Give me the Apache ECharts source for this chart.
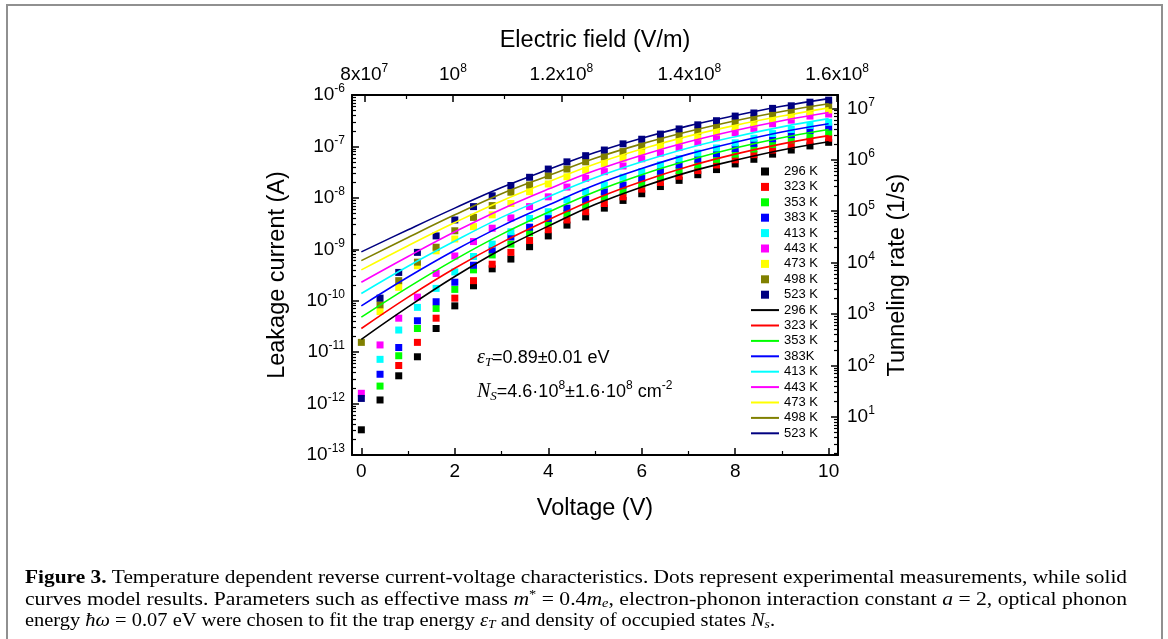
<!DOCTYPE html>
<html>
<head>
<meta charset="utf-8">
<script src="https://cdn.jsdelivr.net/npm/echarts@6/dist/echarts.min.js"></script>
<style>
html,body{margin:0;padding:0;background:#fff;}
#chart{width:1168px;height:639px;}
</style>
</head>
<body>
<div id="chart"></div>
<script>
// ---------------- data (current values given as log10 of current in A) ----------------
const voltage = [0,0.4,0.8,1.2,1.6,2.0,2.4,2.8,3.2,3.6,4.0,4.4,4.8,5.2,5.6,6.0,6.4,6.8,7.2,7.6,8.0,8.4,8.8,9.2,9.6,10];
const temperatures = ['296 K','323 K','353 K','383 K','413 K','443 K','473 K','498 K','523 K'];
const fitLabels = ['296 K','323 K','353 K','383K','413 K','443 K','473 K','498 K','523 K'];
const colors = ['#000000','#ff0000','#00ff00','#0000ff','#00ffff','#ff00ff','#ffff00','#808000','#000080'];

const log10I_296K = [-12.51,-11.93,-11.46,-11.09,-10.54,-10.10,-9.71,-9.38,-9.19,-8.95,-8.74,-8.53,-8.37,-8.20,-8.05,-7.92,-7.78,-7.66,-7.55,-7.45,-7.34,-7.25,-7.15,-7.07,-6.99,-6.92];
const log10I_323K = [null,null,-11.26,-10.81,-10.34,-9.95,-9.61,-9.29,-9.06,-8.83,-8.62,-8.43,-8.27,-8.11,-7.98,-7.83,-7.70,-7.58,-7.47,-7.36,-7.26,-7.16,-7.07,-6.98,-6.90,-6.84];
const log10I_353K = [null,-11.66,-11.07,-10.54,-10.15,-9.78,-9.40,-9.11,-8.90,-8.68,-8.49,-8.30,-8.14,-7.98,-7.86,-7.73,-7.59,-7.47,-7.36,-7.25,-7.15,-7.05,-6.96,-6.87,-6.79,-6.72];
const log10I_383K = [null,-11.43,-10.91,-10.39,-10.02,-9.64,-9.31,-9.01,-8.76,-8.57,-8.40,-8.20,-8.03,-7.88,-7.75,-7.62,-7.48,-7.36,-7.25,-7.14,-7.04,-6.94,-6.85,-6.77,-6.69,-6.62];
const log10I_413K = [null,-11.14,-10.57,-10.13,-9.76,-9.44,-9.14,-8.90,-8.66,-8.40,-8.27,-8.04,-7.88,-7.75,-7.60,-7.49,-7.36,-7.24,-7.13,-7.03,-6.93,-6.84,-6.75,-6.67,-6.59,-6.53];
const log10I_443K = [-11.80,-10.86,-10.34,-9.93,-9.47,-9.13,-8.85,-8.59,-8.39,-8.17,-7.98,-7.79,-7.62,-7.49,-7.38,-7.24,-7.13,-7.02,-6.92,-6.83,-6.73,-6.65,-6.56,-6.49,-6.41,-6.37];
const log10I_473K = [null,-10.21,-9.74,-9.32,-9.03,-8.80,-8.56,-8.33,-8.11,-7.88,-7.73,-7.59,-7.46,-7.33,-7.23,-7.10,-7.00,-6.90,-6.81,-6.72,-6.63,-6.56,-6.47,-6.41,-6.34,-6.29];
const log10I_498K = [-10.81,-10.08,-9.61,-9.25,-8.96,-8.64,-8.38,-8.15,-7.89,-7.75,-7.57,-7.44,-7.30,-7.20,-7.10,-6.99,-6.88,-6.78,-6.70,-6.61,-6.52,-6.46,-6.37,-6.32,-6.25,-6.20];
const log10I_523K = [-11.90,-9.95,-9.45,-9.06,-8.74,-8.43,-8.17,-7.96,-7.76,-7.60,-7.44,-7.30,-7.18,-7.07,-6.95,-6.86,-6.76,-6.66,-6.58,-6.50,-6.41,-6.35,-6.26,-6.21,-6.14,-6.10];

const fitVoltage = [0,1,2,3,4,5,6,7,8,9,10];
const fit_296K = [-10.75,-10.12,-9.53,-9.00,-8.55,-8.13,-7.79,-7.50,-7.27,-7.07,-6.91];
const fit_323K = [-10.54,-9.93,-9.37,-8.87,-8.43,-8.02,-7.68,-7.39,-7.15,-6.95,-6.79];
const fit_353K = [-10.32,-9.74,-9.20,-8.71,-8.28,-7.88,-7.55,-7.27,-7.03,-6.83,-6.67];
const fit_383K = [-10.10,-9.54,-9.02,-8.55,-8.14,-7.75,-7.43,-7.15,-6.92,-6.72,-6.56];
const fit_413K = [-9.86,-9.33,-8.84,-8.38,-7.98,-7.61,-7.30,-7.03,-6.81,-6.62,-6.46];
const fit_443K = [-9.64,-9.14,-8.66,-8.22,-7.83,-7.47,-7.17,-6.91,-6.69,-6.50,-6.34];
const fit_473K = [-9.40,-8.93,-8.48,-8.06,-7.69,-7.34,-7.05,-6.80,-6.59,-6.41,-6.25];
const fit_498K = [-9.22,-8.77,-8.33,-7.92,-7.57,-7.23,-6.95,-6.71,-6.50,-6.32,-6.17];
const fit_523K = [-9.05,-8.62,-8.20,-7.80,-7.45,-7.12,-6.84,-6.60,-6.40,-6.22,-6.07];

const measured = [log10I_296K,log10I_323K,log10I_353K,log10I_383K,log10I_413K,log10I_443K,log10I_473K,log10I_498K,log10I_523K];
const fits = [fit_296K,fit_323K,fit_353K,fit_383K,fit_413K,fit_443K,fit_473K,fit_498K,fit_523K];

// tick labels
const voltageTicks = [0,2,4,6,8,10];
const voltageMinorTicks = [1,3,5,7,9];
const currentExponents = [-13,-12,-11,-10,-9,-8,-7,-6];
const rateExponents = [1,2,3,4,5,6,7];
const fieldTicks = [8e7,1e8,1.2e8,1.4e8,1.6e8];
const fieldTickLabels = ['8x10^7','10^8','1.2x10^8','1.4x10^8','1.6x10^8'];
const fieldMinorTicks = [9e7,1.1e8,1.3e8,1.5e8];

// ---------------- axis geometry helpers ----------------
// voltage position of an electric-field value on the top axis (read off the tick positions)
const fieldToVoltage = E => 5.27 * Math.pow(E / 1e8, 2) - 3.31;
const fieldTickV = fieldTicks.map(fieldToVoltage);
const fieldMinorV = fieldMinorTicks.map(fieldToVoltage);
const X_MIN = -0.2, X_MAX = 10.2;
const Y_MIN = -13, Y_MAX = -6;
const R_MIN = 0.26, R_MAX = 7.26;
const logMinor = (lo, hi) => {
  const out = [];
  for (let n = Math.floor(lo) - 1; n <= Math.ceil(hi); n++) {
    for (let k = 2; k <= 9; k++) {
      const v = n + Math.log10(k);
      if (v > lo && v < hi) out.push(v);
    }
  }
  return out;
};

const FONT = '"Liberation Sans", Arial, Helvetica, sans-serif';
const SERIF = '"Liberation Serif", "Times New Roman", serif';
const richTick = {
  b: {fontSize: 19, fontFamily: FONT, color: '#000'},
  s: {fontSize: 12, fontFamily: FONT, color: '#000', padding: [0, 0, 12, 0]}
};
const supText = s => {
  const p = s.split('^');
  return '{b|' + p[0] + '}' + (p.length > 1 ? '{s|' + p[1] + '}' : '');
};

const AXIS_LINE = {show: true, onZero: false, lineStyle: {color: '#000', width: 2}};
const NAME_STYLE = {fontSize: 23.5, fontFamily: FONT, color: '#000'};
const majorTick = vals => ({show: true, inside: true, length: 7, customValues: vals, lineStyle: {color: '#000', width: 1.5}});
const minorTick = vals => ({show: true, inside: true, length: 4, customValues: vals, lineStyle: {color: '#000', width: 1.2}});

const xAxes = [
  {type: 'value', position: 'bottom', min: X_MIN, max: X_MAX, axisLine: AXIS_LINE,
   axisTick: majorTick(voltageTicks),
   axisLabel: {customValues: voltageTicks, fontSize: 19, fontFamily: FONT, color: '#000', margin: 7},
   splitLine: {show: false},
   name: 'Voltage (V)', nameLocation: 'middle', nameGap: 42, nameTextStyle: NAME_STYLE},
  {type: 'value', position: 'bottom', min: X_MIN, max: X_MAX, axisLine: {show: false, onZero: false},
   axisTick: minorTick(voltageMinorTicks), axisLabel: {show: false}, splitLine: {show: false}},
  {type: 'value', position: 'top', min: X_MIN, max: X_MAX, axisLine: AXIS_LINE,
   axisTick: majorTick(fieldTickV),
   axisLabel: {customValues: fieldTickV, margin: 8, rich: richTick,
     formatter: v => {
       let best = 0;
       fieldTickV.forEach((t, i) => { if (Math.abs(t - v) < Math.abs(fieldTickV[best] - v)) best = i; });
       return supText(fieldTickLabels[best]);
     }},
   splitLine: {show: false},
   name: 'Electric field (V/m)', nameLocation: 'middle', nameGap: 42, nameTextStyle: NAME_STYLE},
  {type: 'value', position: 'top', min: X_MIN, max: X_MAX, axisLine: {show: false, onZero: false},
   axisTick: minorTick(fieldMinorV), axisLabel: {show: false}, splitLine: {show: false}}
];

const yAxes = [
  {type: 'value', position: 'left', min: Y_MIN, max: Y_MAX, axisLine: AXIS_LINE,
   axisTick: majorTick(currentExponents),
   axisLabel: {customValues: currentExponents, margin: 7, rich: richTick, formatter: v => supText('10^' + Math.round(v))},
   splitLine: {show: false},
   name: 'Leakage current (A)', nameLocation: 'middle', nameGap: 62, nameRotate: 90, nameTextStyle: NAME_STYLE},
  {type: 'value', position: 'left', min: Y_MIN, max: Y_MAX, axisLine: {show: false, onZero: false},
   axisTick: minorTick(logMinor(Y_MIN, Y_MAX)), axisLabel: {show: false}, splitLine: {show: false}},
  {type: 'value', position: 'right', min: R_MIN, max: R_MAX, axisLine: AXIS_LINE,
   axisTick: majorTick(rateExponents),
   axisLabel: {customValues: rateExponents, margin: 9, rich: richTick, formatter: v => supText('10^' + Math.round(v))},
   splitLine: {show: false},
   name: 'Tunneling rate (1/s)', nameLocation: 'middle', nameGap: 48, nameRotate: 90, nameTextStyle: NAME_STYLE},
  {type: 'value', position: 'right', min: R_MIN, max: R_MAX, axisLine: {show: false, onZero: false},
   axisTick: minorTick(logMinor(R_MIN, R_MAX)), axisLabel: {show: false}, splitLine: {show: false}}
];

// ---------------- series ----------------
const series = [];
temperatures.forEach((t, i) => {
  series.push({
    type: 'scatter', name: t, xAxisIndex: 0, yAxisIndex: 0,
    data: voltage.map((v, j) => [v, measured[i][j]]).filter(p => p[1] !== null),
    symbol: 'rect', symbolSize: 7, itemStyle: {color: colors[i], opacity: 1}, z: 2, silent: true
  });
});
temperatures.forEach((t, i) => {
  series.push({
    type: 'line', name: 'fit ' + t, xAxisIndex: 0, yAxisIndex: 0,
    data: fitVoltage.map((v, j) => [v, fits[i][j]]),
    smooth: 0.4, showSymbol: false, symbol: 'none',
    lineStyle: {color: colors[i], width: 1.6}, itemStyle: {color: colors[i]}, z: 3, silent: true
  });
});

const legendLabel = {};
temperatures.forEach((t, i) => { legendLabel[t] = t; legendLabel['fit ' + t] = fitLabels[i]; });
const legendData = temperatures.map((t, i) => ({name: t, icon: 'path://M0,0L8,0L8,8L0,8Z', itemStyle: {color: colors[i]}}))
  .concat(temperatures.map((t, i) => ({name: 'fit ' + t, icon: 'path://M0,0L28,0L28,2L0,2Z', itemStyle: {color: colors[i]}})));

// ---------------- caption / annotation text ----------------
const ctx = document.createElement('canvas').getContext('2d');
const CAP = 18;
const capRich = {
  r: {fontFamily: SERIF, fontSize: CAP, color: '#000'},
  b: {fontFamily: SERIF, fontSize: CAP, fontWeight: 'bold', color: '#000'},
  i: {fontFamily: SERIF, fontSize: CAP, fontStyle: 'italic', color: '#000'},
  sup: {fontFamily: SERIF, fontSize: 12, color: '#000', padding: [0, 0, 10, 0]},
  isub: {fontFamily: SERIF, fontSize: 12, fontStyle: 'italic', color: '#000', padding: [8, 0, 0, 0]}
};
const fontOf = st => (st.fontStyle || 'normal') + ' ' + (st.fontWeight || 'normal') + ' ' + st.fontSize + 'px ' + st.fontFamily;
function richLine(segs) {
  let text = '', width = 0;
  segs.forEach(([k, s]) => {
    text += '{' + k + '|' + s + '}';
    ctx.font = fontOf(capRich[k]);
    width += ctx.measureText(s).width;
  });
  return {text, width};
}
const captionLines = [
  {y: 578, target: 1102, segs: [['b', 'Figure 3.'], ['r', ' Temperature dependent reverse current-voltage characteristics. Dots represent experimental measurements, while solid']]},
  {y: 600, target: 1102, segs: [['r', 'curves model results. Parameters such as effective mass '], ['i', 'm'], ['sup', '*'], ['r', ' = 0.4'], ['i', 'm'], ['isub', 'e'], ['r', ', electron-phonon interaction constant '], ['i', 'a'], ['r', ' = 2, optical phonon']]},
  {y: 621, target: 750, segs: [['r', 'energy '], ['i', 'ħω'], ['r', ' = 0.07 eV were chosen to fit the trap energy '], ['i', 'ε'], ['isub', 'T'], ['r', ' and density of occupied states '], ['i', 'N'], ['isub', 's'], ['r', '.']]}
];
const graphics = [
  {type: 'rect', shape: {x: 7, y: 5, width: 1155, height: 700}, style: {fill: 'none', stroke: '#909090', lineWidth: 2}, silent: true}
];
captionLines.forEach(l => {
  const r = richLine(l.segs);
  graphics.push({type: 'text', x: 25, y: l.y, scaleX: l.target / r.width, silent: true,
    style: {text: r.text, rich: capRich, verticalAlign: 'middle', align: 'left'}});
});
const annRich = {
  e: {fontFamily: SERIF, fontSize: 20, fontStyle: 'italic', color: '#000'},
  es: {fontFamily: SERIF, fontSize: 13, fontStyle: 'italic', color: '#000', padding: [9, 0, 0, 0]},
  t: {fontFamily: FONT, fontSize: 18, color: '#000'},
  s: {fontFamily: FONT, fontSize: 12, color: '#000', padding: [0, 0, 12, 0]}
};
graphics.push({type: 'text', x: 477, y: 358, silent: true,
  style: {text: '{e|ε}{es|T}{t|=0.89±0.01 eV}', rich: annRich, verticalAlign: 'middle'}});
graphics.push({type: 'text', x: 477, y: 392, silent: true,
  style: {text: '{e|N}{es|S}{t|=4.6·10}{s|8}{t|±1.6·10}{s|8}{t| cm}{s|-2}', rich: annRich, verticalAlign: 'middle'}});

// ---------------- chart ----------------
const chart = echarts.init(document.getElementById('chart'), null, {renderer: 'canvas'});
chart.setOption({
  animation: false,
  backgroundColor: '#ffffff',
  grid: {left: 352, right: 330, top: 95, bottom: 184, containLabel: false, outerBoundsMode: 'none'},
  xAxis: xAxes,
  yAxis: yAxes,
  legend: {
    orient: 'vertical', left: 751, top: 165, itemWidth: 28, itemHeight: 8, itemGap: 2.4,
    selectedMode: false, padding: 0,
    textStyle: {fontSize: 13, fontFamily: FONT, color: '#000', lineHeight: 13},
    formatter: n => legendLabel[n],
    data: legendData
  },
  series: series,
  graphic: graphics
});
</script>
</body>
</html>
